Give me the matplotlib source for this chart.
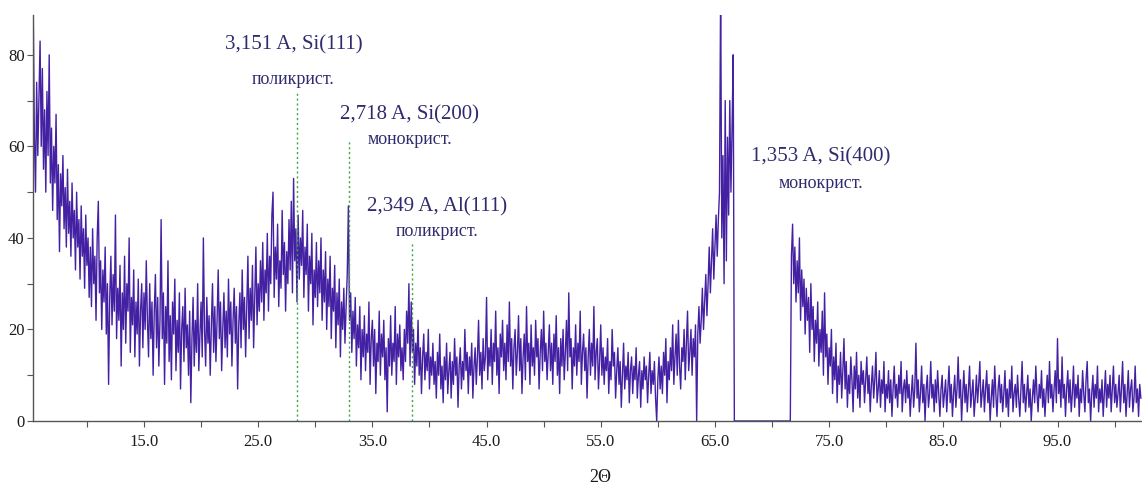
import numpy as np
import matplotlib
matplotlib.use("Agg")
import matplotlib.pyplot as plt
from matplotlib.ticker import MultipleLocator, FixedLocator

plt.rcParams["font.family"] = ["Liberation Serif", "DejaVu Serif"]

# measurement grid: 2Theta from 5.3 deg, step 0.1 deg
theta_start = 5.3
theta_step = 0.1

# intensity, 5-degree chunks (50 points each)
seg_05 = [90, 62, 50, 74, 58, 70, 83, 60, 77, 55, 68, 50, 72, 58, 80, 52, 64, 46, 60, 52,
          67, 44, 56, 37, 54, 47, 58, 42, 51, 38, 55, 41, 48, 36, 52, 40, 46, 33, 50, 38,
          44, 31, 47, 36, 42, 29, 45, 34, 40, 27]
seg_10 = [38, 25, 42, 30, 36, 22, 40, 48, 28, 35, 20, 33, 26, 38, 19, 30, 8, 27, 36, 21,
          32, 24, 45, 18, 29, 22, 34, 12, 28, 20, 36, 17, 30, 24, 40, 15, 27, 21, 33, 14,
          26, 19, 31, 12, 24, 30, 16, 28, 20, 35]
seg_15 = [22, 14, 30, 18, 26, 10, 24, 32, 16, 27, 12, 22, 44, 18, 28, 8, 25, 17, 35, 13,
          23, 9, 26, 19, 31, 11, 22, 15, 28, 7, 20, 25, 13, 29, 16, 21, 10, 24, 4, 18,
          27, 12, 22, 15, 30, 11, 19, 26, 14, 40]
seg_20 = [20, 12, 27, 17, 23, 10, 21, 30, 15, 25, 13, 22, 33, 18, 26, 11, 20, 28, 16, 24,
          14, 31, 19, 26, 12, 22, 29, 17, 25, 7, 21, 28, 16, 33, 20, 27, 14, 25, 36, 18,
          29, 22, 34, 16, 27, 38, 21, 30, 24, 35]
seg_25 = [26, 39, 22, 33, 28, 41, 24, 36, 30, 45, 50, 27, 38, 31, 43, 25, 35, 29, 46, 32,
          39, 24, 37, 30, 44, 33, 48, 28, 53, 35, 42, 26, 45, 31, 40, 34, 46, 27, 38, 32,
          43, 24, 36, 30, 41, 21, 33, 27, 39, 25]
seg_30 = [35, 28, 40, 22, 33, 26, 37, 20, 31, 25, 36, 18, 29, 24, 34, 16, 28, 21, 31, 14,
          26, 20, 29, 17, 25, 32, 47, 22, 28, 15, 24, 18, 27, 12, 21, 16, 25, 9, 20, 14,
          23, 11, 19, 15, 26, 8, 18, 22, 12, 20]
seg_35 = [6, 17, 13, 24, 10, 19, 14, 22, 9, 16, 2, 18, 12, 23, 10, 17, 13, 25, 8, 19,
          14, 21, 11, 16, 9, 20, 13, 24, 17, 30, 12, 26, 15, 20, 8, 17, 12, 22, 10, 16,
          6, 14, 19, 9, 15, 11, 20, 7, 14, 10]
seg_40 = [17, 8, 13, 5, 15, 10, 19, 7, 12, 4, 14, 9, 17, 6, 11, 15, 5, 13, 8, 18,
          10, 14, 3, 12, 16, 7, 13, 9, 20, 11, 15, 6, 14, 10, 17, 5, 12, 16, 8, 14,
          22, 10, 15, 7, 18, 11, 14, 27, 9, 16]
seg_45 = [12, 20, 8, 17, 13, 24, 10, 16, 6, 19, 14, 22, 11, 17, 9, 21, 13, 26, 12, 18,
          7, 16, 20, 10, 15, 23, 11, 18, 6, 14, 19, 9, 25, 13, 17, 8, 21, 12, 16, 10,
          22, 14, 18, 7, 15, 20, 11, 24, 13, 17]
seg_50 = [9, 15, 21, 11, 17, 8, 19, 13, 23, 10, 16, 6, 18, 12, 20, 9, 15, 22, 11, 28,
          14, 18, 7, 16, 12, 21, 10, 17, 13, 24, 8, 15, 19, 11, 16, 5, 14, 20, 10, 17,
          12, 25, 9, 15, 18, 7, 13, 21, 10, 16]
seg_55 = [8, 14, 11, 18, 6, 13, 9, 20, 12, 15, 5, 11, 16, 8, 13, 3, 10, 17, 7, 12,
          9, 15, 4, 11, 14, 6, 12, 9, 16, 5, 10, 13, 3, 11, 7, 14, 9, 12, 4, 10,
          15, 6, 11, 8, 13, 5, 0, 9, 14, 7]
seg_60 = [12, 6, 15, 10, 18, 4, 13, 9, 16, 11, 21, 8, 14, 19, 10, 22, 12, 7, 16, 13,
          20, 9, 17, 24, 11, 15, 20, 10, 18, 14, 21, 0, 19, 25, 17, 22, 29, 20, 26, 32,
          23, 30, 38, 28, 35, 42, 31, 38, 45, 36]
seg_65 = [44, 50, 95, 40, 58, 30, 70, 35, 62, 45, 70, 50, 64, 80, 0, 0, 0, 0, 0, 0,
          0, 0, 0, 0, 0, 0, 0, 0, 0, 0, 0, 0, 0, 0, 0, 0, 0, 0, 0, 0,
          0, 0, 0, 0, 0, 0, 0, 0, 0, 0]
seg_70 = [0, 0, 0, 0, 0, 0, 0, 0, 0, 0, 0, 0, 0, 0, 36, 43, 30, 38, 26, 35,
          28, 40, 22, 33, 25, 31, 19, 29, 22, 27, 15, 30, 20, 25, 13, 22, 17, 26, 12, 20,
          15, 24, 10, 28, 14, 19, 8, 16, 12, 20]
seg_75 = [6, 14, 9, 17, 4, 12, 8, 15, 5, 11, 18, 7, 13, 3, 10, 6, 14, 9, 2, 12,
          7, 15, 5, 10, 3, 13, 8, 11, 4, 9, 14, 6, 10, 2, 8, 12, 5, 9, 15, 4,
          7, 11, 3, 9, 6, 13, 2, 8, 5, 11]
seg_80 = [4, 9, 1, 7, 12, 5, 8, 3, 10, 6, 13, 2, 7, 9, 4, 11, 5, 8, 1, 6,
          10, 3, 7, 17, 5, 9, 2, 6, 12, 4, 8, 0, 7, 10, 3, 6, 13, 5, 8, 2,
          9, 4, 11, 6, 1, 7, 10, 3, 6, 9]
seg_85 = [2, 7, 12, 4, 8, 1, 6, 10, 3, 7, 14, 5, 9, 0, 6, 11, 4, 8, 2, 7,
          12, 3, 6, 9, 1, 5, 10, 4, 8, 13, 3, 6, 9, 2, 7, 11, 4, 8, 0, 5,
          9, 3, 12, 6, 1, 7, 10, 4, 8, 2]
seg_90 = [6, 11, 3, 7, 1, 9, 5, 12, 2, 6, 8, 3, 10, 5, 1, 7, 13, 4, 8, 2,
          6, 10, 3, 7, 0, 5, 9, 4, 12, 6, 2, 8, 5, 11, 3, 7, 1, 6, 10, 4,
          13, 5, 8, 2, 7, 11, 4, 18, 6, 9]
seg_95 = [3, 14, 5, 8, 1, 7, 11, 4, 9, 2, 6, 12, 3, 8, 5, 10, 1, 7, 4, 11,
          6, 2, 9, 13, 4, 7, 0, 6, 10, 3, 8, 5, 12, 2, 7, 4, 9, 1, 6, 11,
          3, 8, 5, 10, 2, 7, 12, 4, 8, 3]
seg_100 = [6, 10, 2, 7, 13, 4, 8, 1, 6, 11, 3, 7, 9, 2, 5, 12, 4, 7, 1, 8, 5]

# reference reflections: position and top of the marker line
ref_pos = [28.44, 32.96, 38.47]
ref_top = [71.7, 61.4, 38.9]

labels_main = ["3,151 A, Si(111)", "2,718 A, Si(200)", "2,349 A, Al(111)", "1,353 A, Si(400)"]
labels_sub = ["поликрист.", "монокрист.", "поликрист.", "монокрист."]
label_x = [28.1, 38.25, 40.7, 74.3]
label_y_main = [82.2, 66.9, 46.8, 57.7]
label_y_sub = [74.6, 61.6, 41.5, 51.8]

intensity = np.array(seg_05 + seg_10 + seg_15 + seg_20 + seg_25 + seg_30 + seg_35
                     + seg_40 + seg_45 + seg_50 + seg_55 + seg_60 + seg_65 + seg_70
                     + seg_75 + seg_80 + seg_85 + seg_90 + seg_95 + seg_100, dtype=float)
two_theta = theta_start + theta_step * np.arange(len(intensity))

line_color = "#4421a3"
text_color = "#2f2b6e"

fig = plt.figure(figsize=(11.42, 4.91), dpi=100)
ax = fig.add_axes([33 / 1142, 1 - 421 / 491, 1 - 33 / 1142, (421 - 15) / 491])

ax.plot(two_theta, intensity, color=line_color, linewidth=1.0)

for xp, top in zip(ref_pos, ref_top):
    ax.plot([xp, xp], [0, top], color="#3aa83a", linestyle=(0, (1.5, 2)), linewidth=1.0)

for x, ym, ys, t1, t2 in zip(label_x, label_y_main, label_y_sub, labels_main, labels_sub):
    ax.text(x, ym, t1, ha="center", va="center", fontsize=15, color=text_color)
    ax.text(x, ys, t2, ha="center", va="center", fontsize=13, color=text_color)

ax.set_xlim(5.28, 102.4)
ax.set_ylim(0, 88.7)

major_x = [15, 25, 35, 45, 55, 65, 75, 85, 95]
ax.xaxis.set_major_locator(FixedLocator(major_x))
ax.xaxis.set_minor_locator(FixedLocator([10, 20, 30, 40, 50, 60, 70, 80, 90, 100]))
ax.yaxis.set_major_locator(MultipleLocator(20))
ax.yaxis.set_minor_locator(MultipleLocator(10))
ax.set_xticklabels([f"{v:.1f}" for v in major_x])

for side in ("top", "right"):
    ax.spines[side].set_visible(False)
for side in ("left", "bottom"):
    ax.spines[side].set_color("#555555")
    ax.spines[side].set_linewidth(1.0)

ax.tick_params(which="both", direction="out", length=4, width=0.8, color="#555555")
ax.tick_params(axis="x", labelsize=12, pad=5, labelcolor="#1a1a1a")
ax.tick_params(axis="y", labelsize=12, pad=2, labelcolor="#1a1a1a")

fig.text(600 / 1142, 1 - 478 / 491, "2Θ", ha="center", va="center", fontsize=13, color="#1a1a1a")

fig.savefig("out.png", dpi=100)
plt.close(fig)
